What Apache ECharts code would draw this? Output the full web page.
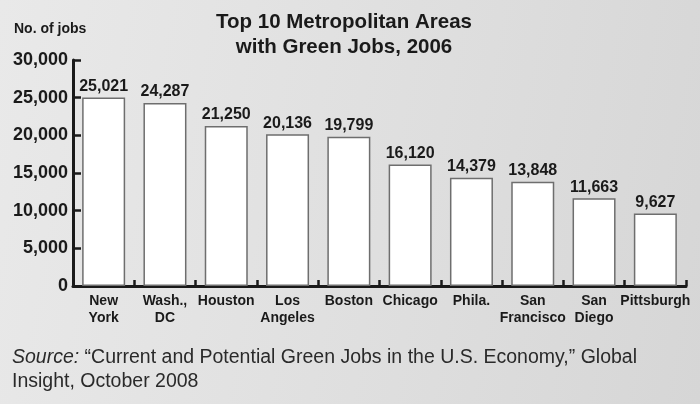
<!DOCTYPE html>
<html><head><meta charset="utf-8">
<script src="https://cdn.jsdelivr.net/npm/echarts@6/dist/echarts.min.js"></script>
<style>
html,body{margin:0;padding:0;}
body{width:700px;height:404px;background:linear-gradient(100deg,#e9e9e9 0%,#dedede 60%,#d6d6d6 100%);}
#c{width:700px;height:404px;}
</style></head><body>
<div id="c"></div>
<script>
const categories = ['New\nYork','Wash.,\nDC','Houston','Los\nAngeles','Boston','Chicago','Phila.','San\nFrancisco','San\nDiego','Pittsburgh'];
const jobs = [25021,24287,21250,20136,19799,16120,14379,13848,11663,9627];
const titleText = 'Top 10 Metropolitan Areas\nwith Green Jobs, 2006';
const yName = 'No. of jobs';

const FONT = '"Liberation Sans", Arial, sans-serif';
const chart = echarts.init(document.getElementById('c'), null, {renderer:'canvas'});
chart.setOption({
  backgroundColor: 'transparent',
  animation: false,
  title: {
    text: titleText, left: 339, top: 5, textAlign: 'center',
    textStyle: {fontFamily: FONT, fontWeight: 'bold', fontSize: 20.5, lineHeight: 25, color: '#1a1a1a'}
  },
  grid: {left: 73, right: 14, top: 60, bottom: 118},
  xAxis: {
    type: 'category', data: categories,
    axisLine: {lineStyle: {color: '#1a1a1a', width: 3}},
    axisTick: {show: true, inside: true, length: 6, lineStyle: {color: '#1a1a1a', width: 2.5}},
    axisLabel: {fontFamily: FONT, fontWeight: 'bold', fontSize: 14, lineHeight: 17, color: '#1a1a1a', margin: 7, interval: 0}
  },
  yAxis: {
    type: 'value', min: 0, max: 30000, interval: 5000,
    name: yName, nameLocation: 'end', nameGap: 0,
    nameTextStyle: {fontFamily: FONT, fontWeight: 'bold', fontSize: 14, color: '#1a1a1a', align: 'left', padding: [0,0,24,-59]},
    axisLine: {show: true, lineStyle: {color: '#1a1a1a', width: 3}},
    axisTick: {show: true, inside: true, length: 8, lineStyle: {color: '#1a1a1a', width: 2.5}},
    splitLine: {show: false},
    axisLabel: {fontFamily: FONT, fontWeight: 'bold', fontSize: 18, color: '#1a1a1a', margin: 5,
      formatter: v => v.toLocaleString('en-US')}
  },
  series: [{
    type: 'bar', data: jobs, barWidth: 43,
    itemStyle: {color: '#ffffff', borderColor: '#6e6e6e', borderWidth: 1.5},
    label: {show: true, position: 'top', distance: 3, fontFamily: FONT, fontWeight: 'bold', fontSize: 16, color: '#1a1a1a',
      formatter: p => p.value.toLocaleString('en-US')}
  }],
  graphic: [{
    type: 'text', left: 12, top: 346,
    style: {
      text: '{i|Source:} “Current and Potential Green Jobs in the U.S. Economy,” Global\nInsight, October 2008',
      fontFamily: FONT, fontSize: 19.5, lineHeight: 24, fill: '#2a2a2a',
      rich: {i: {fontStyle: 'italic', fontFamily: FONT, fontSize: 19.5, fill: '#2a2a2a'}}
    }
  }]
});
</script>
</body></html>
